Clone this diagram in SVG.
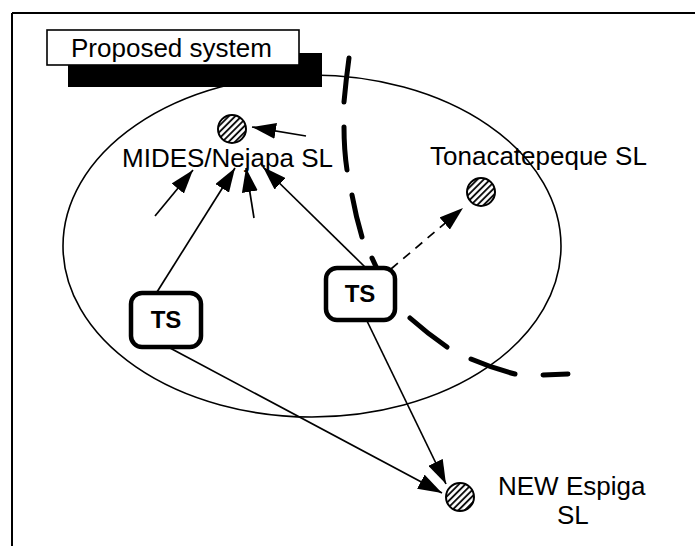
<svg xmlns="http://www.w3.org/2000/svg" width="695" height="546" viewBox="0 0 695 546">
<style>
text{font-family:"Liberation Sans",Arial,sans-serif;fill:#000}
.lbl{font-size:26px}
.ts{font-size:24px;font-weight:bold;text-anchor:middle}
.conn{stroke:#000;stroke-width:1.7;fill:none;marker-end:url(#ah)}
.site{fill:url(#hatch);stroke:#000;stroke-width:2}
.tsbox{fill:#fff;stroke:#000;stroke-width:4.5}
</style>
<defs>
<pattern id="hatch" width="4.5" height="4.5" patternUnits="userSpaceOnUse" patternTransform="rotate(45)">
<rect width="4.5" height="4.5" fill="#fff"/>
<line x1="1" y1="0" x2="1" y2="4.5" stroke="#000" stroke-width="1.8"/>
</pattern>
<marker id="ah" viewBox="0 0 24 16" markerWidth="24" markerHeight="16" refX="24" refY="8" orient="auto" markerUnits="userSpaceOnUse">
<path d="M0,0 L24,8 L0,16 z" fill="#000"/>
</marker>
</defs>
<rect width="695" height="546" fill="#fff"/>
<g id="frame" stroke="#000" stroke-width="2" fill="none">
<line x1="12" y1="13" x2="695" y2="13"/>
<line x1="12" y1="13" x2="12" y2="546"/>
</g>
<g id="title">
<rect x="68" y="53" width="254" height="34" fill="#000"/>
<rect x="47" y="30" width="252" height="35" fill="#fff" stroke="#000" stroke-width="1.6"/>
<text class="lbl" x="71" y="57">Proposed system</text>
</g>
<g id="system-area">
<ellipse cx="312" cy="246" rx="249" ry="171" fill="none" stroke="#000" stroke-width="1.6"/>
</g>
<g id="boundary" fill="none" stroke="#000" stroke-width="5" stroke-linecap="round">
<path d="M349,58 Q346,80 344,102 M344,127 Q344,150 347,170 M352,195 Q356,217 362,237 M372,258 Q378,272 386,286 M410,318 Q428,334 447,347 M471,359 Q492,368 515,374 M543,375 L568,374"/>
</g>
<g id="connectors">
<line class="conn" x1="157" y1="292" x2="235" y2="168"/>
<line class="conn" x1="365" y1="267" x2="263" y2="167"/>
<line class="conn" x1="155" y1="216" x2="193" y2="170"/>
<line class="conn" x1="254" y1="218" x2="246" y2="168"/>
<line class="conn" x1="306" y1="136" x2="252" y2="127"/>
<line class="conn" x1="391" y1="269" x2="463" y2="208" stroke-dasharray="9,7"/>
<line class="conn" x1="170" y1="348" x2="442" y2="493"/>
<line class="conn" x1="367" y1="321" x2="446" y2="484"/>
</g>
<g id="mides">
<circle class="site" cx="232" cy="129" r="14"/>
<text class="lbl" x="122" y="167">MIDES/Nejapa SL</text>
</g>
<g id="tonacatepeque">
<circle class="site" cx="481" cy="192" r="14"/>
<text class="lbl" x="430" y="165">Tonacatepeque SL</text>
</g>
<g id="espiga">
<circle class="site" cx="460" cy="497" r="14"/>
<text class="lbl" x="498" y="495">NEW Espiga</text>
<text class="lbl" x="557" y="524">SL</text>
</g>
<g id="ts-left">
<rect class="tsbox" x="131" y="293" width="70" height="54" rx="11"/>
<text class="ts" x="166" y="328">TS</text>
</g>
<g id="ts-right">
<rect class="tsbox" x="326" y="268" width="69" height="52" rx="11"/>
<text class="ts" x="360" y="302">TS</text>
</g>
</svg>
